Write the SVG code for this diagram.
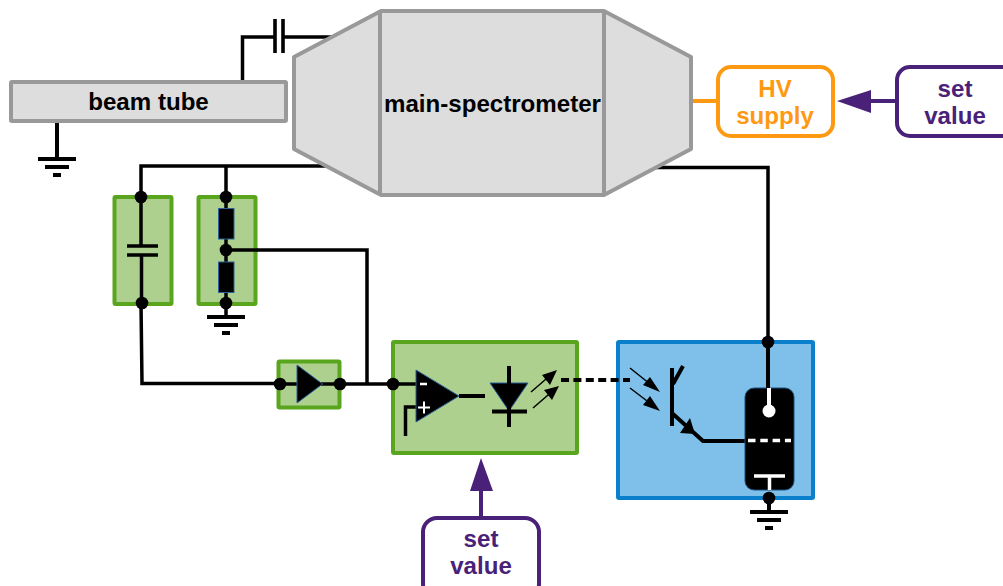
<svg xmlns="http://www.w3.org/2000/svg" width="1003" height="586" viewBox="0 0 1003 586">
<style>
text{font-family:"Liberation Sans",Arial,sans-serif;font-weight:700;text-anchor:middle;font-size:24.1px}
.w{fill:none;stroke:#000;stroke-width:3.5}
.t{fill:none;stroke:#000;stroke-width:4}
.gray{fill:#dddddd;stroke:#999999;stroke-width:4;stroke-linejoin:round}
.green{fill:#aed08e;stroke:#5aa51e;stroke-width:4;stroke-linejoin:round}
.blue{fill:#7fc0ea;stroke:#0a80cc;stroke-width:4;stroke-linejoin:round}
.purple{fill:#fff;stroke:#4a2178;stroke-width:4}
.pt{fill:#4a2178}
.d{fill:#000}
.sym{fill:#000;stroke:#2a6099;stroke-width:1}
</style>
<defs>
<g id="gnd"><rect x="-19" y="0" width="38" height="4" fill="#000"/><rect x="-12" y="8" width="24" height="4" fill="#000"/><rect x="-4" y="16" width="8" height="4" fill="#000"/></g>
</defs>
<g id="connectors">
<path class="w" d="M242.500 81V37H275M283 37H335"/>
<path class="w" d="M141 197V166H340M226 166V197"/>
<path class="t" d="M57 122V158"/>
<path class="w" d="M650 167.500H768V342"/>
<path class="w" d="M255 250H367V384"/>
<path class="w" d="M141 303L142 383.500H280"/>
<path class="w" d="M340 384H393"/>
<path d="M693 101H718" fill="none" stroke="#ff9912" stroke-width="4"/>
<path d="M870 101H897" fill="none" stroke="#4a2178" stroke-width="4"/>
<path d="M837 101L871 90V113Z" class="pt"/>
<path d="M481 518V490" fill="none" stroke="#4a2178" stroke-width="4"/>
<path d="M481 458L470 491H493Z" class="pt"/>
</g>
<g id="capacitor-top"><path d="M275 19V53M283 19V53" fill="none" stroke="#000" stroke-width="3.600"/></g>
<g id="ground-tube"><use href="#gnd" x="57" y="157"/></g>
<g id="beam-tube"><rect class="gray" x="11" y="82" width="275" height="39" rx="1"/><text x="148.500" y="110">beam tube</text></g>
<g id="main-spectrometer">
<path class="gray" d="M294 57L381 11H604L691 57V149L604 195H381L294 149Z"/>
<path d="M380 11V195M604 11V195" fill="none" stroke="#999" stroke-width="4"/>
<text x="492.500" y="112">main-spectrometer</text>
</g>
<g id="hv-supply"><rect x="718" y="67" width="115" height="69" rx="13" fill="#fff" stroke="#ff9912" stroke-width="4"/><text x="775" y="97" fill="#ff9912">HV</text><text x="775" y="124" fill="#ff9912">supply</text></g>
<g id="set-value-right"><rect class="purple" x="897" y="67" width="130" height="69" rx="13"/><text x="955" y="97" class="pt">set</text><text x="955" y="124" class="pt">value</text></g>
<g id="capacitor-box">
<rect class="green" x="114.500" y="197" width="57" height="107" rx="1"/>
<path class="w" d="M141 197V246M141.500 256V303"/>
<path d="M127 246H158M127 255H158" fill="none" stroke="#000" stroke-width="3.500"/>
<circle class="d" cx="141" cy="197" r="6.300"/><circle class="d" cx="142" cy="303" r="6.300"/>
</g>
<g id="divider-box">
<rect class="green" x="198.500" y="197" width="57" height="107" rx="1"/>
<path class="w" d="M226 197V316M226 250H258"/>
<rect class="sym" x="218.500" y="208.500" width="15.500" height="30.500"/>
<rect class="sym" x="218.500" y="262" width="15.500" height="30.500"/>
<circle class="d" cx="226" cy="197" r="6.300"/><circle class="d" cx="226" cy="250" r="6.300"/><circle class="d" cx="226" cy="303" r="6.300"/>
<use href="#gnd" x="226" y="315"/>
</g>
<g id="diode-box">
<rect class="green" x="278.500" y="361.500" width="61" height="46" rx="1"/>
<path class="w" d="M280 384H340"/>
<path class="sym" d="M297 365L322.500 384L297 403Z"/>
<circle class="d" cx="280" cy="384" r="6.300"/><circle class="d" cx="340" cy="384" r="6.300"/>
</g>
<g id="amp-box">
<rect class="green" x="393" y="342" width="184" height="111" rx="1"/>
<path class="w" d="M393 384H416"/>
<path class="w" d="M405.500 436V407H418"/>
<path class="sym" d="M416 370L459 396L416 422Z"/>
<path d="M420 384H427" stroke="#fff" stroke-width="2.500"/>
<path d="M418 407.500H430M424 401.500V413.500" stroke="#fff" stroke-width="2"/>
<path class="t" d="M459 396H485"/>
<path class="sym" d="M490 383H528L509 411Z"/>
<path class="t" d="M509 366V427M492 411.500H527"/>
<path d="M531 392L553 373M533 408L555 389" stroke="#000" stroke-width="1.500" fill="none"/>
<path class="d" d="M557 370L542 375L550 385ZM559 386L544 390L552 400Z"/>
<circle class="d" cx="393" cy="384" r="6.300"/>
</g>
<g id="driver-box">
<rect class="blue" x="618" y="342" width="195" height="156" rx="1"/>
<path d="M630 368L655 388M630 388L655 407" stroke="#000" stroke-width="1.500" fill="none"/>
<path class="d" d="M660 392L650 377L643 385ZM660 411L650 396L643 405Z"/>
<path class="t" d="M672 368V426"/>
<path class="t" d="M673 384L683 366"/>
<path class="t" d="M673 414L703 441H745"/>
<path class="d" d="M695 434L690 418L680 433Z"/>
<rect x="745" y="388" width="49" height="102" rx="9" fill="#000" stroke="#1a4f80" stroke-width="1"/>
<path d="M768 342V388" stroke="#000" stroke-width="4" fill="none"/>
<path d="M769 388V410" stroke="#fff" stroke-width="4" fill="none"/>
<circle cx="769" cy="411" r="6.500" fill="#fff"/>
<path d="M748 440.500H791" stroke="#fff" stroke-width="3.500" stroke-dasharray="7.500 4.800" fill="none"/>
<path d="M754 476H785" stroke="#fff" stroke-width="3.500" fill="none"/>
<path d="M769.500 476V490" stroke="#fff" stroke-width="3.500" fill="none"/>
<circle class="d" cx="768" cy="342" r="6.300"/><circle class="d" cx="769" cy="498" r="6.300"/>
<path class="t" d="M769 498V512"/>
<use href="#gnd" x="769" y="510"/>
</g>
<g id="link"><path d="M561 380H630" stroke="#000" stroke-width="4" fill="none" stroke-dasharray="8 4.400"/></g>
<g id="set-value-bottom"><rect class="purple" x="423" y="518" width="116" height="80" rx="14"/><text x="481" y="547" class="pt">set</text><text x="481" y="574" class="pt">value</text></g>
</svg>
